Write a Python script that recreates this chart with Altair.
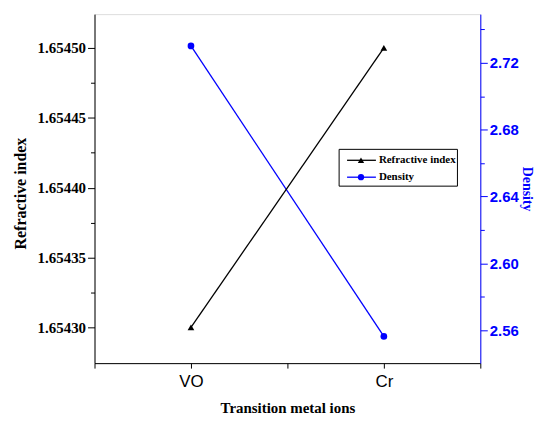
import altair as alt
import pandas as pd

categories = ["VO", "Cr"]
refractive_index = [1.65430, 1.65450]
density = [2.7301, 2.5564]

x_ticks = [0.5, 1, 1.5, 2, 2.5]
ri_ticks = [1.65430, 1.654325, 1.65435, 1.654375, 1.65440, 1.654425, 1.65445, 1.654475, 1.65450, 1.654525]
den_ticks = [2.54, 2.56, 2.58, 2.60, 2.62, 2.64, 2.66, 2.68, 2.70, 2.72, 2.74]

legend_names = ["Refractive index", "Density"]
legend_colors = ["black", "blue"]
legend_shapes = ["triangle-up", "circle"]

df = pd.DataFrame({
    "cat": categories,
    "pos": [i + 1 for i in range(len(categories))],
    "ri": refractive_index,
    "den": density,
})

label_expr = "datum.value == 1 ? 'VO' : (datum.value == 2 ? 'Cr' : '')"

x_enc = alt.X("pos:Q", scale=alt.Scale(domain=[0.5, 2.5], nice=False, zero=False),
              axis=alt.Axis(values=x_ticks, labelExpr=label_expr, title="Transition metal ions",
                            grid=False, domainColor="black", tickColor="black", tickSize=5,
                            labelFont="Liberation Sans", labelFontSize=17, labelColor="black",
                            labelPadding=6, titleFont="Liberation Serif", titleFontWeight="bold",
                            titleFontSize=15, titleColor="black", titlePadding=11,
                            labelOverlap=False))

ri_minor = "abs(datum.value*20000 - round(datum.value*20000)) > 0.1"
den_minor = "abs(datum.value*25 - round(datum.value*25)) > 0.1"

y_ri = alt.Y("ri:Q", scale=alt.Scale(domain=[1.6542744, 1.6545242], nice=False, zero=False),
             axis=alt.Axis(values=ri_ticks, format=".5f", orient="left",
                           labelExpr=f"({ri_minor}) ? '' : datum.label",
                           tickSize={"condition": {"test": ri_minor, "value": 4}, "value": 7},
                           title="Refractive index", grid=False, domainColor="black",
                           tickColor="black", labelFont="Liberation Serif", labelFontWeight="bold",
                           labelFontSize=15, labelColor="black", labelPadding=2,
                           titleFont="Liberation Serif", titleFontWeight="bold", titleFontSize=16,
                           titleColor="black", titlePadding=9, titleY=180, labelOverlap=False))

y_den = alt.Y("den:Q", scale=alt.Scale(domain=[2.5404, 2.7491], nice=False, zero=False),
              axis=alt.Axis(values=den_ticks, format=".2f", orient="right",
                            labelExpr=f"({den_minor}) ? '' : datum.label",
                            tickSize={"condition": {"test": den_minor, "value": 4}, "value": 7},
                            title="Density", grid=False, domainColor="blue", tickColor="blue",
                            labelFont="Liberation Sans", labelFontWeight="bold", labelFontSize=15,
                            labelColor="blue", labelPadding=2, titleFont="Liberation Serif",
                            titleFontWeight="bold", titleFontSize=14, titleColor="blue",
                            titlePadding=1, labelOverlap=False))

base = alt.Chart(df)

den_line = base.mark_line(color="blue", strokeWidth=1.3).encode(x=x_enc, y=y_den)
den_pts = base.mark_point(shape="circle", filled=True, color="blue", size=45, opacity=1).encode(x=x_enc, y=y_den)
ri_line = base.mark_line(color="black", strokeWidth=1.3).encode(x=x_enc, y=y_ri)
ri_pts = base.mark_point(shape="triangle-up", filled=True, color="black", size=45, opacity=1).encode(x=x_enc, y=y_ri)

den_layer = alt.layer(den_line, den_pts)
ri_layer = alt.layer(ri_line, ri_pts)

# Legend box
leg_df = pd.DataFrame({"name": legend_names, "color": legend_colors, "shape": legend_shapes,
                       "row": list(range(len(legend_names)))})
leg_y = alt.Y("row:Q", scale=alt.Scale(domain=[0, 1], range=[147, 164]), axis=None)
leg_box = alt.Chart(leg_df.head(1)).mark_rect(fill="white", stroke="black", strokeWidth=1).encode(
    x=alt.value(246), x2=alt.value(365), y=alt.value(136), y2=alt.value(173))
leg_rule = alt.Chart(leg_df).mark_rule(strokeWidth=1.3).encode(
    x=alt.value(254), x2=alt.value(283), y=leg_y,
    color=alt.Color("color:N", scale=None))
leg_pt = alt.Chart(leg_df).mark_point(filled=True, size=40, opacity=1).encode(
    x=alt.value(268), y=leg_y,
    color=alt.Color("color:N", scale=None),
    shape=alt.Shape("shape:N", scale=None))
leg_txt = alt.Chart(leg_df).mark_text(align="left", baseline="middle", font="Liberation Serif",
                                       fontWeight="bold", fontSize=11, color="black").encode(
    x=alt.value(286), y=leg_y, text="name:N")
legend = alt.layer(leg_box, leg_rule, leg_pt, leg_txt)

chart = alt.layer(den_layer, ri_layer, legend).resolve_scale(y="independent").properties(
    width=388, height=351,
    autosize=alt.AutoSizeParams(type="none"),
    padding={"left": 87, "top": 5, "right": 55, "bottom": 51},
).configure_view(stroke="black", strokeWidth=1).configure(background="white")

chart.save("out.html", embed_options={"renderer": "svg", "actions": False})
